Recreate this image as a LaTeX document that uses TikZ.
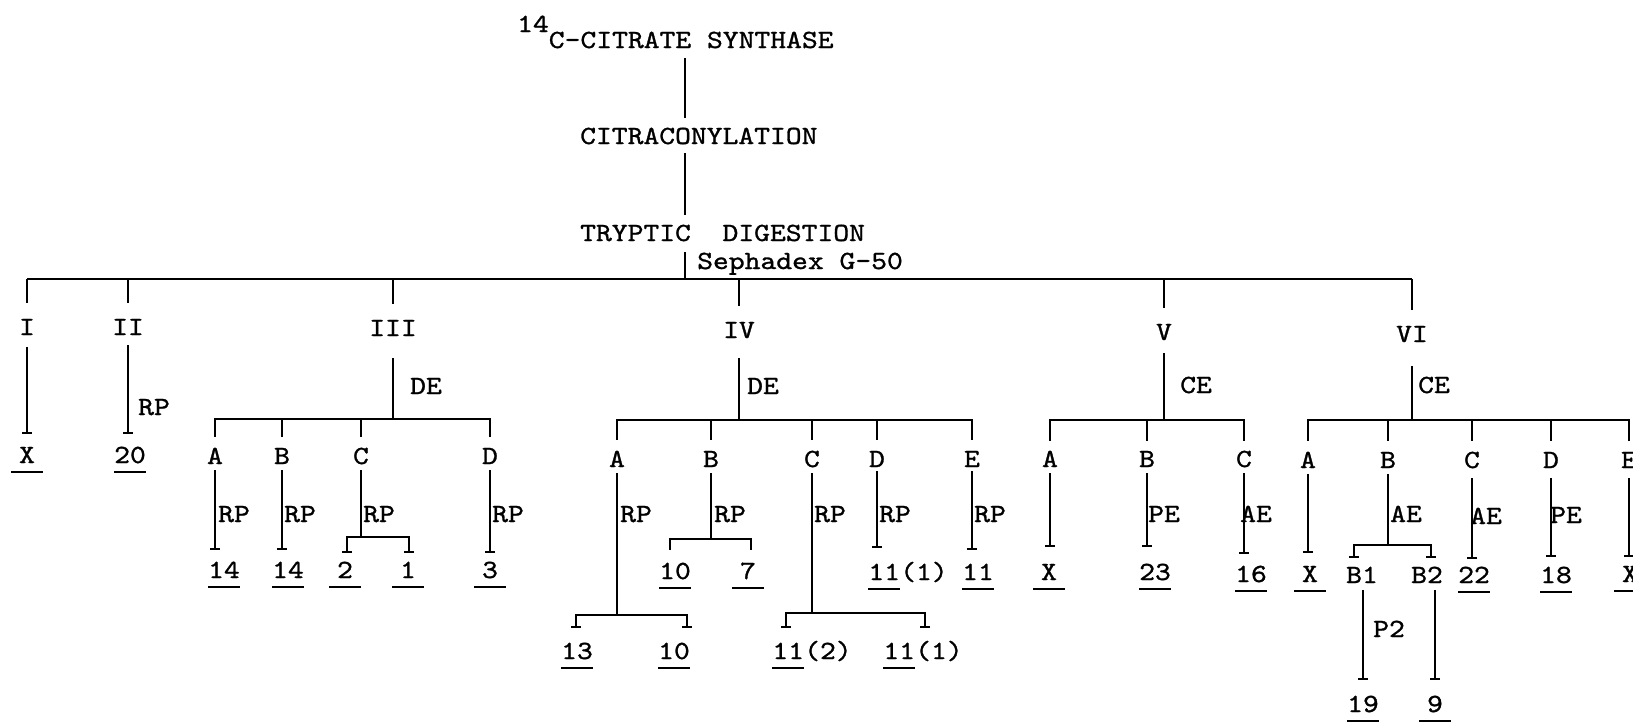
\documentclass[tikz,border=0pt]{standalone}
\usepackage{fontspec}
\newfontfamily\tw{lmmono10-regular.otf}[FakeStretch=1.15,FakeBold=1.1]
\usetikzlibrary{arrows.meta}
\newcommand\tfont{\tw\fontsize{26.2pt}{30pt}\selectfont}
\newcommand\ulx[1]{\setbox0\hbox{#1}\dimen0=\wd0\advance\dimen0 4pt\ifdim\dimen0<32pt\dimen0=32pt\fi\vtop{\hbox to\dimen0{\hss#1\hss}\kern8pt\hrule height 2pt}}
\begin{document}
\begin{tikzpicture}[x=1pt,y=-1pt,
  t/.style={font=\tfont, inner sep=0pt, anchor=base, text height=16pt, text depth=0pt},
  tl/.style={t, anchor=base west},
  ln/.style={line width=2pt},
  tb/.style={ln, -{Bar[width=10pt]}},
  tbb/.style={ln, {Bar[width=10pt]}-{Bar[width=10pt]}}]
\useasboundingbox (0,0) rectangle (1633,726);
% top spine
\node[tl] (title) at (517,48) {\raisebox{16pt}{14}C-CITRATE SYNTHASE};
\node[tl] (citra) at (580,144) {CITRACONYLATION};
\node[tl] (tryp) at (580,241) {TRYPTIC\ \ DIGESTION};
\node[tl] (seph) at (697,269) {Sephadex G-50};
\coordinate (spine) at (685,0);
\coordinate (bar) at (0,279);
\draw[ln,shorten <=10pt,shorten >=10pt] (spine |- title.south) -- (spine |- citra.north);
\draw[ln,shorten <=9pt,shorten >=10pt] (spine |- citra.south) -- (spine |- tryp.north);
\draw[ln,shorten <=11pt,shorten >=1pt] (spine |- tryp.south) -- (spine |- bar);
% level 1
\node[t] (I) at (27,335) {I};
\node[t] (II) at (128,335) {II};
\node[t] (III) at (393,336) {III};
\node[t] (IV) at (739,338) {IV};
\node[t] (V) at (1164,340) {V};
\node[t] (VI) at (1412,342) {VI};
\draw[ln] (bar -| I.north) -- (bar -| VI.north);
\foreach \n in {I,II,III,IV,V,VI} \draw[ln,shorten >=16pt] (bar -| \n.north) -- (\n.north);
% I and II
\node[t] (IX) at (27,463) {\ulx{X}};
\draw[tb,shorten <=12pt,shorten >=13pt] (I.south) -- (I.south |- IX.north);
\node[t] (II20) at (130,463) {\ulx{20}};
\node[tl] (IIrp) at (138,415) {RP};
\draw[tb,shorten <=10pt,shorten >=13pt] (II.south) -- (II.south |- II20.north);
% III
\node[tl] (IIIde) at (410,394) {DE};
\coordinate (IIIbar) at (0,419);
\draw[ln,shorten <=22pt] (III.south) -- (III.south |- IIIbar);
\node[t] (IIIA) at (215,464) {A};
\node[t] (IIIB) at (282,464) {B};
\node[t] (IIIC) at (361,464) {C};
\node[t] (IIID) at (490,464) {D};
\draw[ln,shorten <=11pt,shorten >=11pt] (IIIA.north) -- (IIIA.north |- IIIbar) -- (IIID.north |- IIIbar) -- (IIID.north);
\foreach \n in {IIIB,IIIC} \draw[ln,shorten >=11pt] (IIIbar -| \n.north) -- (\n.north);
\node[tl] (IIIArp) at (218,522) {RP};
\node[tl] (IIIBrp) at (284,522) {RP};
\node[tl] (IIICrp) at (363,522) {RP};
\node[tl] (IIIDrp) at (492,522) {RP};
\node[t] (IIIa) at (224,578) {\ulx{14}};
\node[t] (IIIb) at (288,578) {\ulx{14}};
\node[t] (IIIc1) at (345,578) {\ulx{2}};
\node[t] (IIIc2) at (408,578) {\ulx{1}};
\node[t] (IIId) at (490,578) {\ulx{3}};
\draw[tb,shorten <=6pt,shorten >=12pt] (IIIA.south) -- (IIIA.south |- IIIa.north);
\draw[tb,shorten <=6pt,shorten >=12pt] (IIIB.south) -- (IIIB.south |- IIIb.north);
\draw[tb,shorten <=6pt,shorten >=9pt] (IIID.south) -- (IIID.south |- IIId.north);
\coordinate (IIIcl) at (347,537);
\coordinate (IIIcr) at (409,537);
\draw[ln,shorten <=6pt] (IIIC.south) -- (IIIC.south |- IIIcl);
\draw[tbb,shorten <=9pt,shorten >=9pt] (IIIcl |- IIIc1.north) -- (IIIcl) -- (IIIcr) -- (IIIcr |- IIIc2.north);
% IV
\node[tl] (IVde) at (747,394) {DE};
\coordinate (IVbar) at (0,420);
\draw[ln,shorten <=20pt] (IV.south) -- (IV.south |- IVbar);
\node[t] (IVA) at (617,467) {A};
\node[t] (IVB) at (711,467) {B};
\node[t] (IVC) at (812,467) {C};
\node[t] (IVD) at (877,467) {D};
\node[t] (IVE) at (972,467) {E};
\draw[ln,shorten <=11pt,shorten >=11pt] (IVA.north) -- (IVA.north |- IVbar) -- (IVE.north |- IVbar) -- (IVE.north);
\foreach \n in {IVB,IVC,IVD} \draw[ln,shorten >=11pt] (IVbar -| \n.north) -- (\n.north);
\node[tl] (IVArp) at (620,522) {RP};
\node[tl] (IVBrp) at (714,522) {RP};
\node[tl] (IVCrp) at (814,522) {RP};
\node[tl] (IVDrp) at (879,522) {RP};
\node[tl] (IVErp) at (974,522) {RP};
\node[t] (IVa1) at (577,659) {\ulx{13}};
\node[t] (IVa2) at (674,659) {\ulx{10}};
\node[t] (IVb1) at (675,579) {\ulx{10}};
\node[t] (IVb2) at (748,579) {\ulx{7}};
\node[tl] (IVc1) at (772,659) {\ulx{11}(2)};
\node[tl] (IVc2) at (883,659) {\ulx{11}(1)};
\node[tl] (IVd) at (868,580) {\ulx{11}(1)};
\node[t] (IVe) at (978,580) {\ulx{11}};
\coordinate (IVal) at (576,615);
\coordinate (IVar) at (687,615);
\draw[ln,shorten <=6pt] (IVA.south) -- (IVA.south |- IVal);
\draw[tbb,shorten <=15pt,shorten >=15pt] (IVal |- IVa1.north) -- (IVal) -- (IVar) -- (IVar |- IVa2.north);
\coordinate (IVbl) at (670,539);
\coordinate (IVbr) at (751,539);
\draw[ln,shorten <=6pt] (IVB.south) -- (IVB.south |- IVbl);
\draw[ln,shorten <=13pt,shorten >=13pt] (IVbl |- IVb1.north) -- (IVbl) -- (IVbr) -- (IVbr |- IVb2.north);
\coordinate (IVcl) at (786,613);
\coordinate (IVcr) at (925,613);
\draw[ln,shorten <=6pt] (IVC.south) -- (IVC.south |- IVcl);
\draw[tbb,shorten <=15pt,shorten >=15pt] (IVcl |- IVc1.north) -- (IVcl) -- (IVcr) -- (IVcr |- IVc2.north);
\draw[tb,shorten <=4pt,shorten >=16pt] (IVD.south) -- (IVD.south |- IVd.north);
\draw[tb,shorten <=4pt,shorten >=14pt] (IVE.south) -- (IVE.south |- IVe.north);
% V
\node[tl] (Vce) at (1180,393) {CE};
\coordinate (Vbar) at (0,420);
\draw[ln,shorten <=13pt] (V.south) -- (V.south |- Vbar);
\node[t] (VA) at (1050,467) {A};
\node[t] (VB) at (1147,467) {B};
\node[t] (VC) at (1244,467) {C};
\draw[ln,shorten <=10pt,shorten >=10pt] (VA.north) -- (VA.north |- Vbar) -- (VC.north |- Vbar) -- (VC.north);
\draw[ln,shorten >=10pt] (Vbar -| VB.north) -- (VB.north);
\node[tl] (VBpe) at (1148,522) {PE};
\node[tl] (VCae) at (1240,522) {AE};
\node[t] (Va) at (1049,580) {\ulx{X}};
\node[t] (Vb) at (1155,580) {\ulx{23}};
\node[t] (Vc) at (1251,582) {\ulx{16}};
\draw[tb,shorten <=6pt,shorten >=17pt] (VA.south) -- (VA.south |- Va.north);
\draw[tb,shorten <=6pt,shorten >=17pt] (VB.south) -- (VB.south |- Vb.north);
\draw[tb,shorten <=6pt,shorten >=12pt] (VC.south) -- (VC.south |- Vc.north);
% VI
\node[tl] (VIce) at (1418,393) {CE};
\coordinate (VIbar) at (0,420);
\draw[ln,shorten <=24pt] (VI.south) -- (VI.south |- VIbar);
\node[t] (VIA) at (1308,468) {A};
\node[t] (VIB) at (1388,468) {B};
\node[t] (VIC) at (1472,468) {C};
\node[t] (VID) at (1551,468) {D};
\node[t] (VIE) at (1629,468) {E};
\draw[ln,shorten <=11pt,shorten >=11pt] (VIA.north) -- (VIA.north |- VIbar) -- (VIE.north |- VIbar) -- (VIE.north);
\foreach \n in {VIB,VIC,VID} \draw[ln,shorten >=11pt] (VIbar -| \n.north) -- (\n.north);
\node[tl] (VIBae) at (1390,522) {AE};
\node[tl] (VICae) at (1470,524) {AE};
\node[tl] (VIDpe) at (1550,523) {PE};
\node[t] (VIa) at (1310,582) {\ulx{X}};
\node[t] (VIb1) at (1362,583) {B1};
\node[t] (VIb2) at (1427,583) {B2};
\node[t] (VIc) at (1474,583) {\ulx{22}};
\node[t] (VId) at (1556,583) {\ulx{18}};
\node[t] (VIe) at (1630,582) {\ulx{X}};
\draw[tb,shorten <=6pt,shorten >=13pt] (VIA.south) -- (VIA.south |- VIa.north);
\draw[tb,shorten <=10pt,shorten >=8pt] (VIC.south) -- (VIC.south |- VIc.north);
\draw[tb,shorten <=10pt,shorten >=10pt] (VID.south) -- (VID.south |- VId.north);
\draw[tb,shorten <=10pt,shorten >=9pt] (VIE.south) -- (VIE.south |- VIe.north);
\coordinate (VIbl) at (1354,545);
\coordinate (VIbr) at (1431,545);
\draw[ln,shorten <=6pt] (VIB.south) -- (VIB.south |- VIbl);
\draw[tbb,shorten <=9pt,shorten >=9pt] (VIbl |- VIb1.north) -- (VIbl) -- (VIbr) -- (VIbr |- VIb2.north);
\node[t] (VI19) at (1363,712) {\ulx{19}};
\node[t] (VI9) at (1435,712) {\ulx{9}};
\node[tl] (VIp2) at (1373,637) {P2};
\draw[tb,shorten <=7pt,shorten >=16pt] (VIb1.south -| VI19.north) -- (VI19.north);
\draw[tb,shorten <=7pt,shorten >=16pt] (VIb2.south -| VI9.north) -- (VI9.north);
\end{tikzpicture}
\end{document}
